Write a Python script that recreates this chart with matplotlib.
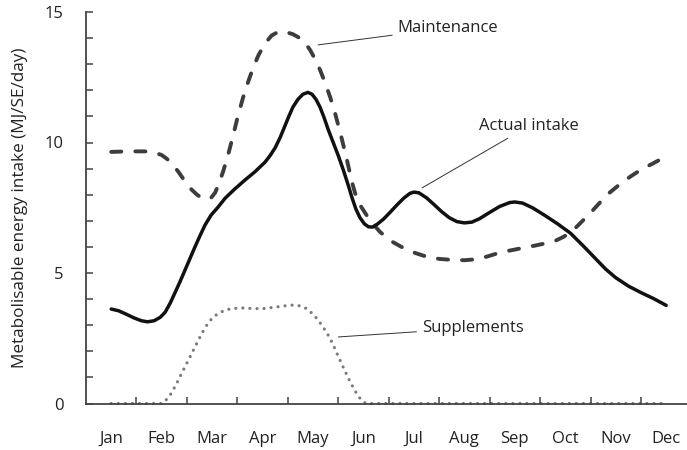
import numpy as np
import matplotlib
matplotlib.use("Agg")
import matplotlib.pyplot as plt

months = ['Jan', 'Feb', 'Mar', 'Apr', 'May', 'Jun',
          'Jul', 'Aug', 'Sep', 'Oct', 'Nov', 'Dec']

# values (x in months, Jan = 0)
actual_x = [0, 0.15, 0.3, 0.45, 0.6, 0.72, 0.85, 0.97, 1.07, 1.17, 1.26, 1.36,
            1.46, 1.56, 1.66, 1.76, 1.86, 1.98, 2.12, 2.26, 2.45, 2.65, 2.85, 3.05,
            3.15, 3.25, 3.35, 3.44, 3.52, 3.6, 3.7, 3.8, 3.9, 3.98, 4.06, 4.14,
            4.22, 4.3, 4.4, 4.5, 4.6, 4.7, 4.77, 4.85, 4.93, 5.02, 5.1, 5.18,
            5.28, 5.4, 5.53, 5.66, 5.8, 5.92, 6.0, 6.1, 6.25, 6.4, 6.55, 6.7,
            6.85, 7.0, 7.15, 7.3, 7.5, 7.7, 7.9, 8.0, 8.15, 8.35, 8.6, 8.85,
            9.1, 9.35, 9.6, 9.8, 10.0, 10.25, 10.5, 10.75, 11.0]
actual_y = [3.62, 3.55, 3.42, 3.28, 3.17, 3.13, 3.17, 3.3, 3.5, 3.85, 4.23, 4.65,
            5.1, 5.55, 6.0, 6.43, 6.84, 7.22, 7.53, 7.87, 8.22, 8.56, 8.88, 9.25,
            9.5, 9.8, 10.2, 10.62, 11.0, 11.35, 11.65, 11.85, 11.92, 11.85, 11.65, 11.35,
            10.95, 10.5, 10.0, 9.5, 8.95, 8.35, 7.9, 7.45, 7.12, 6.88, 6.77, 6.76,
            6.88, 7.07, 7.33, 7.6, 7.87, 8.05, 8.1, 8.07, 7.88, 7.62, 7.35, 7.12,
            6.97, 6.92, 6.95, 7.08, 7.32, 7.55, 7.7, 7.72, 7.68, 7.5, 7.2, 6.88,
            6.53, 6.05, 5.55, 5.15, 4.82, 4.5, 4.25, 4.02, 3.76]

maint_x = [0, 0.35, 0.67, 0.85, 1.0, 1.1, 1.2, 1.33, 1.46, 1.58, 1.7, 1.8,
           1.9, 1.98, 2.06, 2.14, 2.22, 2.32, 2.42, 2.51, 2.61, 2.71, 2.81, 2.92,
           3.05, 3.18, 3.3, 3.45, 3.6, 3.74, 3.85, 3.94, 4.04, 4.14, 4.24, 4.34,
           4.44, 4.55, 4.67, 4.77, 4.85, 4.95, 5.05, 5.18, 5.33, 5.55, 5.79, 6.02,
           6.26, 6.5, 6.77, 7.0, 7.2, 7.45, 7.65, 7.9, 8.16, 8.4, 8.64, 8.82,
           8.96, 9.1, 9.23, 9.38, 9.55, 9.72, 9.88, 10.05, 10.28, 10.5, 10.74, 10.95]
maint_y = [9.64, 9.66, 9.66, 9.62, 9.52, 9.38, 9.2, 8.88, 8.52, 8.22, 8.0, 7.87,
           7.82, 7.88, 8.08, 8.45, 8.9, 9.55, 10.3, 11.0, 11.7, 12.3, 12.85, 13.35,
           13.8, 14.1, 14.23, 14.24, 14.15, 14.0, 13.8, 13.55, 13.2, 12.78, 12.28, 11.74,
           11.1, 10.3, 9.35, 8.5, 7.95, 7.55, 7.25, 6.9, 6.57, 6.22, 5.96, 5.77,
           5.62, 5.54, 5.5, 5.49, 5.52, 5.63, 5.75, 5.86, 5.96, 6.05, 6.15, 6.25,
           6.38, 6.55, 6.78, 7.07, 7.41, 7.77, 8.08, 8.35, 8.68, 8.96, 9.2, 9.42]

supp_x = [0, 0.5, 1.0, 1.07, 1.14, 1.2, 1.3, 1.4, 1.5, 1.6, 1.7, 1.8,
          1.9, 2.0, 2.12, 2.26, 2.4, 2.59, 2.8, 2.99, 3.2, 3.44, 3.6, 3.75,
          3.88, 4.0, 4.1, 4.2, 4.3, 4.38, 4.46, 4.54, 4.62, 4.71, 4.8, 4.88,
          4.97, 5.05, 6, 7, 8, 9, 10, 11]
supp_y = [0, 0, 0, 0.1, 0.25, 0.42, 0.78, 1.17, 1.55, 1.93, 2.32, 2.7,
          3.02, 3.27, 3.45, 3.58, 3.64, 3.66, 3.64, 3.63, 3.68, 3.74, 3.77, 3.74,
          3.63, 3.42, 3.2, 2.93, 2.62, 2.33, 1.98, 1.64, 1.3, 0.93, 0.6, 0.33,
          0.1, 0, 0, 0, 0, 0, 0, 0]

plt.rcParams['font.family'] = ['Open Sans', 'DejaVu Sans']
plt.rcParams['font.size'] = 12
txt = '#222222'
axc = '#444444'

fig = plt.figure(figsize=(6.87, 4.5), dpi=100)
ax = fig.add_axes([86 / 687, 46.5 / 450, 605.4 / 687, 391.5 / 450])

ax.plot(supp_x, supp_y, color='#7a7a7a', lw=2.3, linestyle=(0, (0.01, 2.2)),
        dash_capstyle='round', zorder=1, clip_on=False)
ax.plot(maint_x, maint_y, color='#3d3d3d', lw=2.8, linestyle=(0, (2.6, 3.6)),
        dash_capstyle='round', solid_joinstyle='round', zorder=2)
ax.plot(actual_x, actual_y, color='#111111', lw=2.5,
        solid_capstyle='round', solid_joinstyle='round', zorder=3)

ax.set_xlim(-0.5, 11.5)
ax.set_ylim(0, 15)

ax.spines['top'].set_visible(False)
ax.spines['right'].set_visible(False)
for s in ['left', 'bottom']:
    ax.spines[s].set_color(axc)
    ax.spines[s].set_linewidth(1.3)
    ax.spines[s].set_zorder(4)

ax.set_xticks(range(12))
ax.set_xticklabels(months, color=txt)
ax.set_xticks(np.arange(0.5, 11.5, 1), minor=True)
ax.tick_params(axis='x', which='major', length=0, pad=20)
ax.tick_params(axis='x', which='minor', direction='in', length=5, width=1.1, color=axc)

ax.set_yticks([0, 5, 10, 15])
ax.set_yticklabels(['0', '5', '10', '15'], color=txt)
ax.set_yticks(range(16), minor=True)
ax.tick_params(axis='y', which='both', direction='in', length=5, width=1.1,
               color=axc, pad=16)

ax.set_ylabel('Metabolisable energy intake (MJ/SE/day)', color=txt, labelpad=12,
              fontsize=12.3)

lc = '#333333'
ax.annotate('Maintenance', xy=(4.10, 13.74), xytext=(5.68, 14.39),
            ha='left', va='center', color=txt,
            arrowprops=dict(arrowstyle='-', color=lc, lw=0.7, shrinkA=2, shrinkB=0))
ax.annotate('Actual intake', xy=(6.16, 8.26), xytext=(7.29, 10.63),
            ha='left', va='center', color=txt,
            arrowprops=dict(arrowstyle='-', color=lc, lw=0.7, shrinkA=2, shrinkB=0))
ax.annotate('Supplements', xy=(4.5, 2.55), xytext=(6.16, 2.89),
            ha='left', va='center', color=txt,
            arrowprops=dict(arrowstyle='-', color=lc, lw=0.7, shrinkA=2, shrinkB=0))

fig.savefig('out.png', dpi=100)
